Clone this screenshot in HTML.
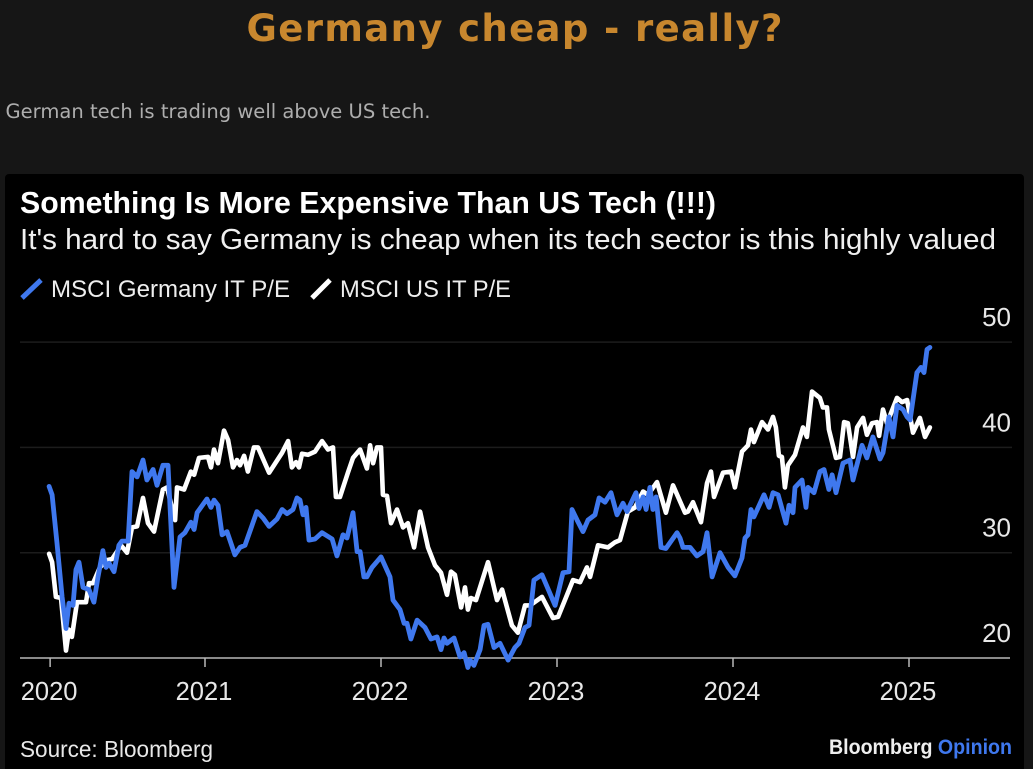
<!DOCTYPE html>
<html lang="en">
<head>
<meta charset="utf-8">
<title>Germany cheap - really?</title>
<style>
html,body{margin:0;padding:0;background:#161616;width:1033px;height:769px;overflow:hidden}
svg{display:block;position:absolute;left:0;top:0}
.dj{font-family:"DejaVu Sans",sans-serif}
.ls{font-family:"Liberation Sans",sans-serif}
</style>
</head>
<body>
<svg id="stage" width="1033" height="769" viewBox="0 0 1033 769" xmlns="http://www.w3.org/2000/svg">
  <rect x="0" y="0" width="1033" height="769" fill="#161616"/>
  <text class="dj" x="514.5" y="41" text-anchor="middle" font-size="37" font-weight="700" fill="#c8872e" textLength="536">Germany cheap - really?</text>
  <text class="dj" x="5.5" y="118" font-size="19.5" fill="#aeaeae" textLength="425" lengthAdjust="spacingAndGlyphs">German tech is trading well above US tech.</text>
  <rect x="5" y="174" width="1019" height="600" rx="4" fill="#000"/>

  <text class="ls" x="20" y="213" font-size="30.5" font-weight="700" fill="#fff" textLength="696" lengthAdjust="spacingAndGlyphs">Something Is More Expensive Than US Tech (!!!)</text>
  <text class="ls" x="20" y="249" font-size="28.8" fill="#f0f0f0" textLength="976" lengthAdjust="spacingAndGlyphs">It's hard to say Germany is cheap when its tech sector is this highly valued</text>

  <line x1="22" y1="298" x2="41" y2="280" stroke="#3f78ee" stroke-width="5"/>
  <text class="ls" x="51" y="297" font-size="24" fill="#eee" textLength="239" lengthAdjust="spacingAndGlyphs">MSCI Germany IT P/E</text>
  <line x1="312" y1="298" x2="330" y2="280" stroke="#fff" stroke-width="5"/>
  <text class="ls" x="340" y="297" font-size="24" fill="#eee" textLength="171" lengthAdjust="spacingAndGlyphs">MSCI US IT P/E</text>

  <g id="grid"></g>
  <g id="y-axis"></g>
  <g id="x-axis"></g>
  <g id="series"></g>

  <text class="ls" x="20" y="757" font-size="23" fill="#e8e8e8" textLength="193" lengthAdjust="spacingAndGlyphs">Source: Bloomberg</text>
  <text class="ls" x="829" y="754" font-size="21" font-weight="700" textLength="183" lengthAdjust="spacingAndGlyphs"><tspan fill="#eee">Bloomberg </tspan><tspan fill="#3f78ee">Opinion</tspan></text>
</svg>

<script>
const yTicks = [20, 30, 40, 50];
const xTickDates = [2020.12, 2021, 2022, 2023, 2024, 2025];
const xTickLabels = ['2020', '2021', '2022', '2023', '2024', '2025'];

const germanyDates = [2020.114,2020.131,2020.159,2020.188,2020.210,2020.227,2020.250,2020.267,2020.284,2020.307,2020.341,2020.369,2020.392,2020.420,2020.438,2020.455,2020.483,2020.511,2020.528,2020.563,2020.585,2020.614,2020.648,2020.670,2020.705,2020.727,2020.761,2020.790,2020.824,2020.858,2020.886,2020.920,2020.938,2020.955,2021.011,2021.034,2021.051,2021.074,2021.097,2021.125,2021.170,2021.199,2021.227,2021.295,2021.330,2021.364,2021.409,2021.438,2021.466,2021.500,2021.523,2021.540,2021.557,2021.574,2021.591,2021.625,2021.665,2021.722,2021.750,2021.784,2021.807,2021.841,2021.864,2021.881,2021.903,2021.920,2021.949,2022.000,2022.051,2022.068,2022.108,2022.131,2022.148,2022.170,2022.205,2022.250,2022.284,2022.318,2022.341,2022.358,2022.375,2022.415,2022.449,2022.472,2022.494,2022.506,2022.528,2022.563,2022.585,2022.608,2022.642,2022.676,2022.722,2022.761,2022.784,2022.818,2022.841,2022.869,2022.915,2022.989,2023.034,2023.068,2023.085,2023.114,2023.148,2023.176,2023.216,2023.239,2023.273,2023.307,2023.341,2023.375,2023.398,2023.449,2023.466,2023.489,2023.506,2023.528,2023.545,2023.563,2023.591,2023.619,2023.682,2023.699,2023.716,2023.756,2023.795,2023.830,2023.852,2023.881,2023.926,2023.972,2024.011,2024.051,2024.068,2024.085,2024.102,2024.119,2024.176,2024.205,2024.227,2024.256,2024.301,2024.318,2024.341,2024.352,2024.392,2024.415,2024.426,2024.460,2024.494,2024.517,2024.545,2024.563,2024.585,2024.625,2024.665,2024.682,2024.733,2024.761,2024.795,2024.835,2024.852,2024.886,2024.909,2024.932,2024.966,2024.989,2025.006,2025.045,2025.068,2025.085,2025.102,2025.119];
const germanyValues = [36.3,35.5,30.9,25.8,22.8,25.2,25.0,28.4,29.1,26.7,26.5,25.3,27.7,30.2,28.6,29.0,28.2,30.7,31.1,31.1,37.7,37.2,38.8,36.9,37.9,36.4,38.3,38.3,26.7,31.5,31.9,32.9,32.2,33.8,35.1,34.3,35.0,34.5,31.7,32.0,29.8,30.5,30.7,33.9,33.3,32.5,33.2,34.1,33.7,34.1,35.2,35.0,33.6,34.3,31.2,31.3,31.9,31.3,29.7,31.7,31.4,33.8,30.1,30.1,27.7,27.7,28.6,29.6,27.7,25.5,24.6,23.3,23.3,21.8,23.6,22.9,21.8,22.0,20.8,21.9,21.4,21.9,20.1,20.5,19.1,19.8,19.3,20.8,23.1,23.2,21.0,21.4,19.8,21.0,21.4,22.9,23.1,27.4,27.9,25.0,28.1,28.2,34.1,33.1,32.0,33.1,33.6,35.2,34.8,35.7,33.6,34.7,33.9,35.7,34.2,35.3,34.1,36.2,34.1,35.3,30.5,30.4,31.9,31.4,30.5,30.5,29.7,30.1,31.9,27.7,30.0,28.6,27.8,29.5,31.4,31.7,34.1,33.4,35.5,34.3,35.7,35.5,32.8,34.5,33.8,36.2,36.9,34.3,36.2,35.7,37.7,37.9,36.0,37.4,35.7,38.5,38.8,36.9,40.2,39.0,41.0,38.9,39.5,42.9,41.0,44.0,43.6,42.9,42.6,47.1,47.6,47.1,49.3,49.5];

const usDates = [2020.114,2020.131,2020.153,2020.182,2020.210,2020.227,2020.244,2020.273,2020.324,2020.341,2020.364,2020.403,2020.443,2020.472,2020.500,2020.523,2020.557,2020.585,2020.614,2020.648,2020.676,2020.710,2020.761,2020.784,2020.830,2020.841,2020.881,2020.920,2020.938,2020.966,2021.017,2021.034,2021.051,2021.074,2021.108,2021.131,2021.159,2021.182,2021.199,2021.222,2021.244,2021.278,2021.301,2021.364,2021.438,2021.472,2021.494,2021.517,2021.534,2021.551,2021.585,2021.625,2021.665,2021.699,2021.727,2021.744,2021.767,2021.812,2021.841,2021.881,2021.920,2021.938,2021.955,2021.977,2022.000,2022.011,2022.034,2022.057,2022.091,2022.125,2022.153,2022.188,2022.222,2022.267,2022.307,2022.341,2022.375,2022.398,2022.420,2022.455,2022.477,2022.494,2022.511,2022.540,2022.608,2022.659,2022.688,2022.744,2022.778,2022.818,2022.847,2022.915,2022.977,2023.006,2023.045,2023.091,2023.131,2023.170,2023.188,2023.233,2023.290,2023.330,2023.358,2023.403,2023.443,2023.489,2023.517,2023.568,2023.619,2023.659,2023.727,2023.744,2023.773,2023.818,2023.852,2023.875,2023.892,2023.943,2023.989,2024.011,2024.051,2024.085,2024.102,2024.119,2024.165,2024.199,2024.227,2024.244,2024.261,2024.278,2024.295,2024.312,2024.352,2024.398,2024.420,2024.449,2024.494,2024.511,2024.534,2024.545,2024.585,2024.608,2024.631,2024.653,2024.682,2024.705,2024.739,2024.761,2024.790,2024.818,2024.830,2024.852,2024.875,2024.932,2024.960,2024.989,2025.023,2025.062,2025.091,2025.119];
const usValues = [29.9,29.1,25.8,25.7,20.7,22.7,22.0,25.3,25.3,27.1,27.1,28.6,29.3,29.4,30.1,30.7,30.0,32.4,32.5,35.2,32.8,32.0,36.0,36.2,33.1,36.2,36.0,37.7,37.4,39.0,39.1,38.1,39.8,38.5,41.6,40.7,38.1,38.8,38.3,39.2,37.7,40.0,40.0,37.6,39.5,40.6,38.1,38.6,38.1,39.4,39.3,39.6,40.6,39.8,40.0,35.3,35.3,37.6,39.0,39.8,38.0,40.2,38.5,40.0,40.0,35.5,35.4,32.8,34.1,32.4,32.8,30.5,33.9,30.5,28.8,28.1,26.0,28.2,27.9,24.8,26.7,24.6,25.7,25.5,29.1,25.5,26.5,23.1,22.4,25.0,25.0,25.8,23.8,23.9,25.5,27.4,27.2,28.6,27.7,30.7,30.5,31.0,31.2,33.9,34.3,35.8,35.5,36.7,33.8,36.4,33.8,33.9,34.8,32.9,36.6,37.7,35.3,37.6,37.7,36.2,39.6,40.2,41.7,40.5,42.4,41.7,42.9,41.9,39.2,39.1,36.2,38.3,39.3,41.9,41.0,45.3,44.7,43.8,43.8,41.7,39.0,39.1,42.4,42.3,39.1,41.9,42.8,41.2,42.3,42.4,41.1,43.6,42.3,44.7,44.3,44.5,41.4,42.8,41.0,41.9];

const SVG_NS = 'http://www.w3.org/2000/svg';
function xScale(date) { return 205 + (date - 2021) * 176; }
function yScale(value) { return 658 - (value - 20) * 10.53; }
function make(tag, attrs, parent) {
  const el = document.createElementNS(SVG_NS, tag);
  for (const key in attrs) el.setAttribute(key, attrs[key]);
  parent.appendChild(el);
  return el;
}

const grid = document.getElementById('grid');
const yAxis = document.getElementById('y-axis');
const xAxis = document.getElementById('x-axis');
const series = document.getElementById('series');

yTicks.forEach(function (tick) {
  const y = yScale(tick);
  if (tick !== 20) {
    const gridline = make('line', { x1: 20, x2: 1012, y1: y, y2: y, stroke: '#1c1c1c', 'stroke-width': 1.5 }, grid);
    
    
  }
  const label = make('text', { x: 1011, y: y - 16, 'text-anchor': 'end', 'font-size': 26, fill: '#e8e8e8', class: 'ls' }, yAxis);
  label.textContent = String(tick);
  
  
});

const baseline = make('line', { x1: 20, x2: 1010, y1: yScale(20), y2: yScale(20), stroke: '#b8b8b8', 'stroke-width': 1.5 }, xAxis);



xTickDates.forEach(function (date, i) {
  const x = xScale(date);
  const tick = make('line', { x1: x, x2: x, y1: yScale(20), y2: yScale(20) + 9, stroke: '#b8b8b8', 'stroke-width': 1.5 }, xAxis);
  
  
  const label = make('text', { x: x - 1, y: 700, 'text-anchor': 'middle', 'font-size': 25.5, fill: '#e8e8e8', class: 'ls' }, xAxis);
  label.textContent = xTickLabels[i];
  
  
});

function toPoints(dates, values) {
  return dates.map(function (d, i) {
    return xScale(d).toFixed(1) + ',' + yScale(values[i]).toFixed(1);
  }).join(' ');
}

const usLine = make('polyline', { points: toPoints(usDates, usValues), fill: 'none', stroke: '#ffffff', 'stroke-width': 4.6, 'stroke-linejoin': 'round', 'stroke-linecap': 'round' }, series);



const germanyLine = make('polyline', { points: toPoints(germanyDates, germanyValues), fill: 'none', stroke: '#3f78ee', 'stroke-width': 4.8, 'stroke-linejoin': 'round', 'stroke-linecap': 'round' }, series);


</script>
</body>
</html>
